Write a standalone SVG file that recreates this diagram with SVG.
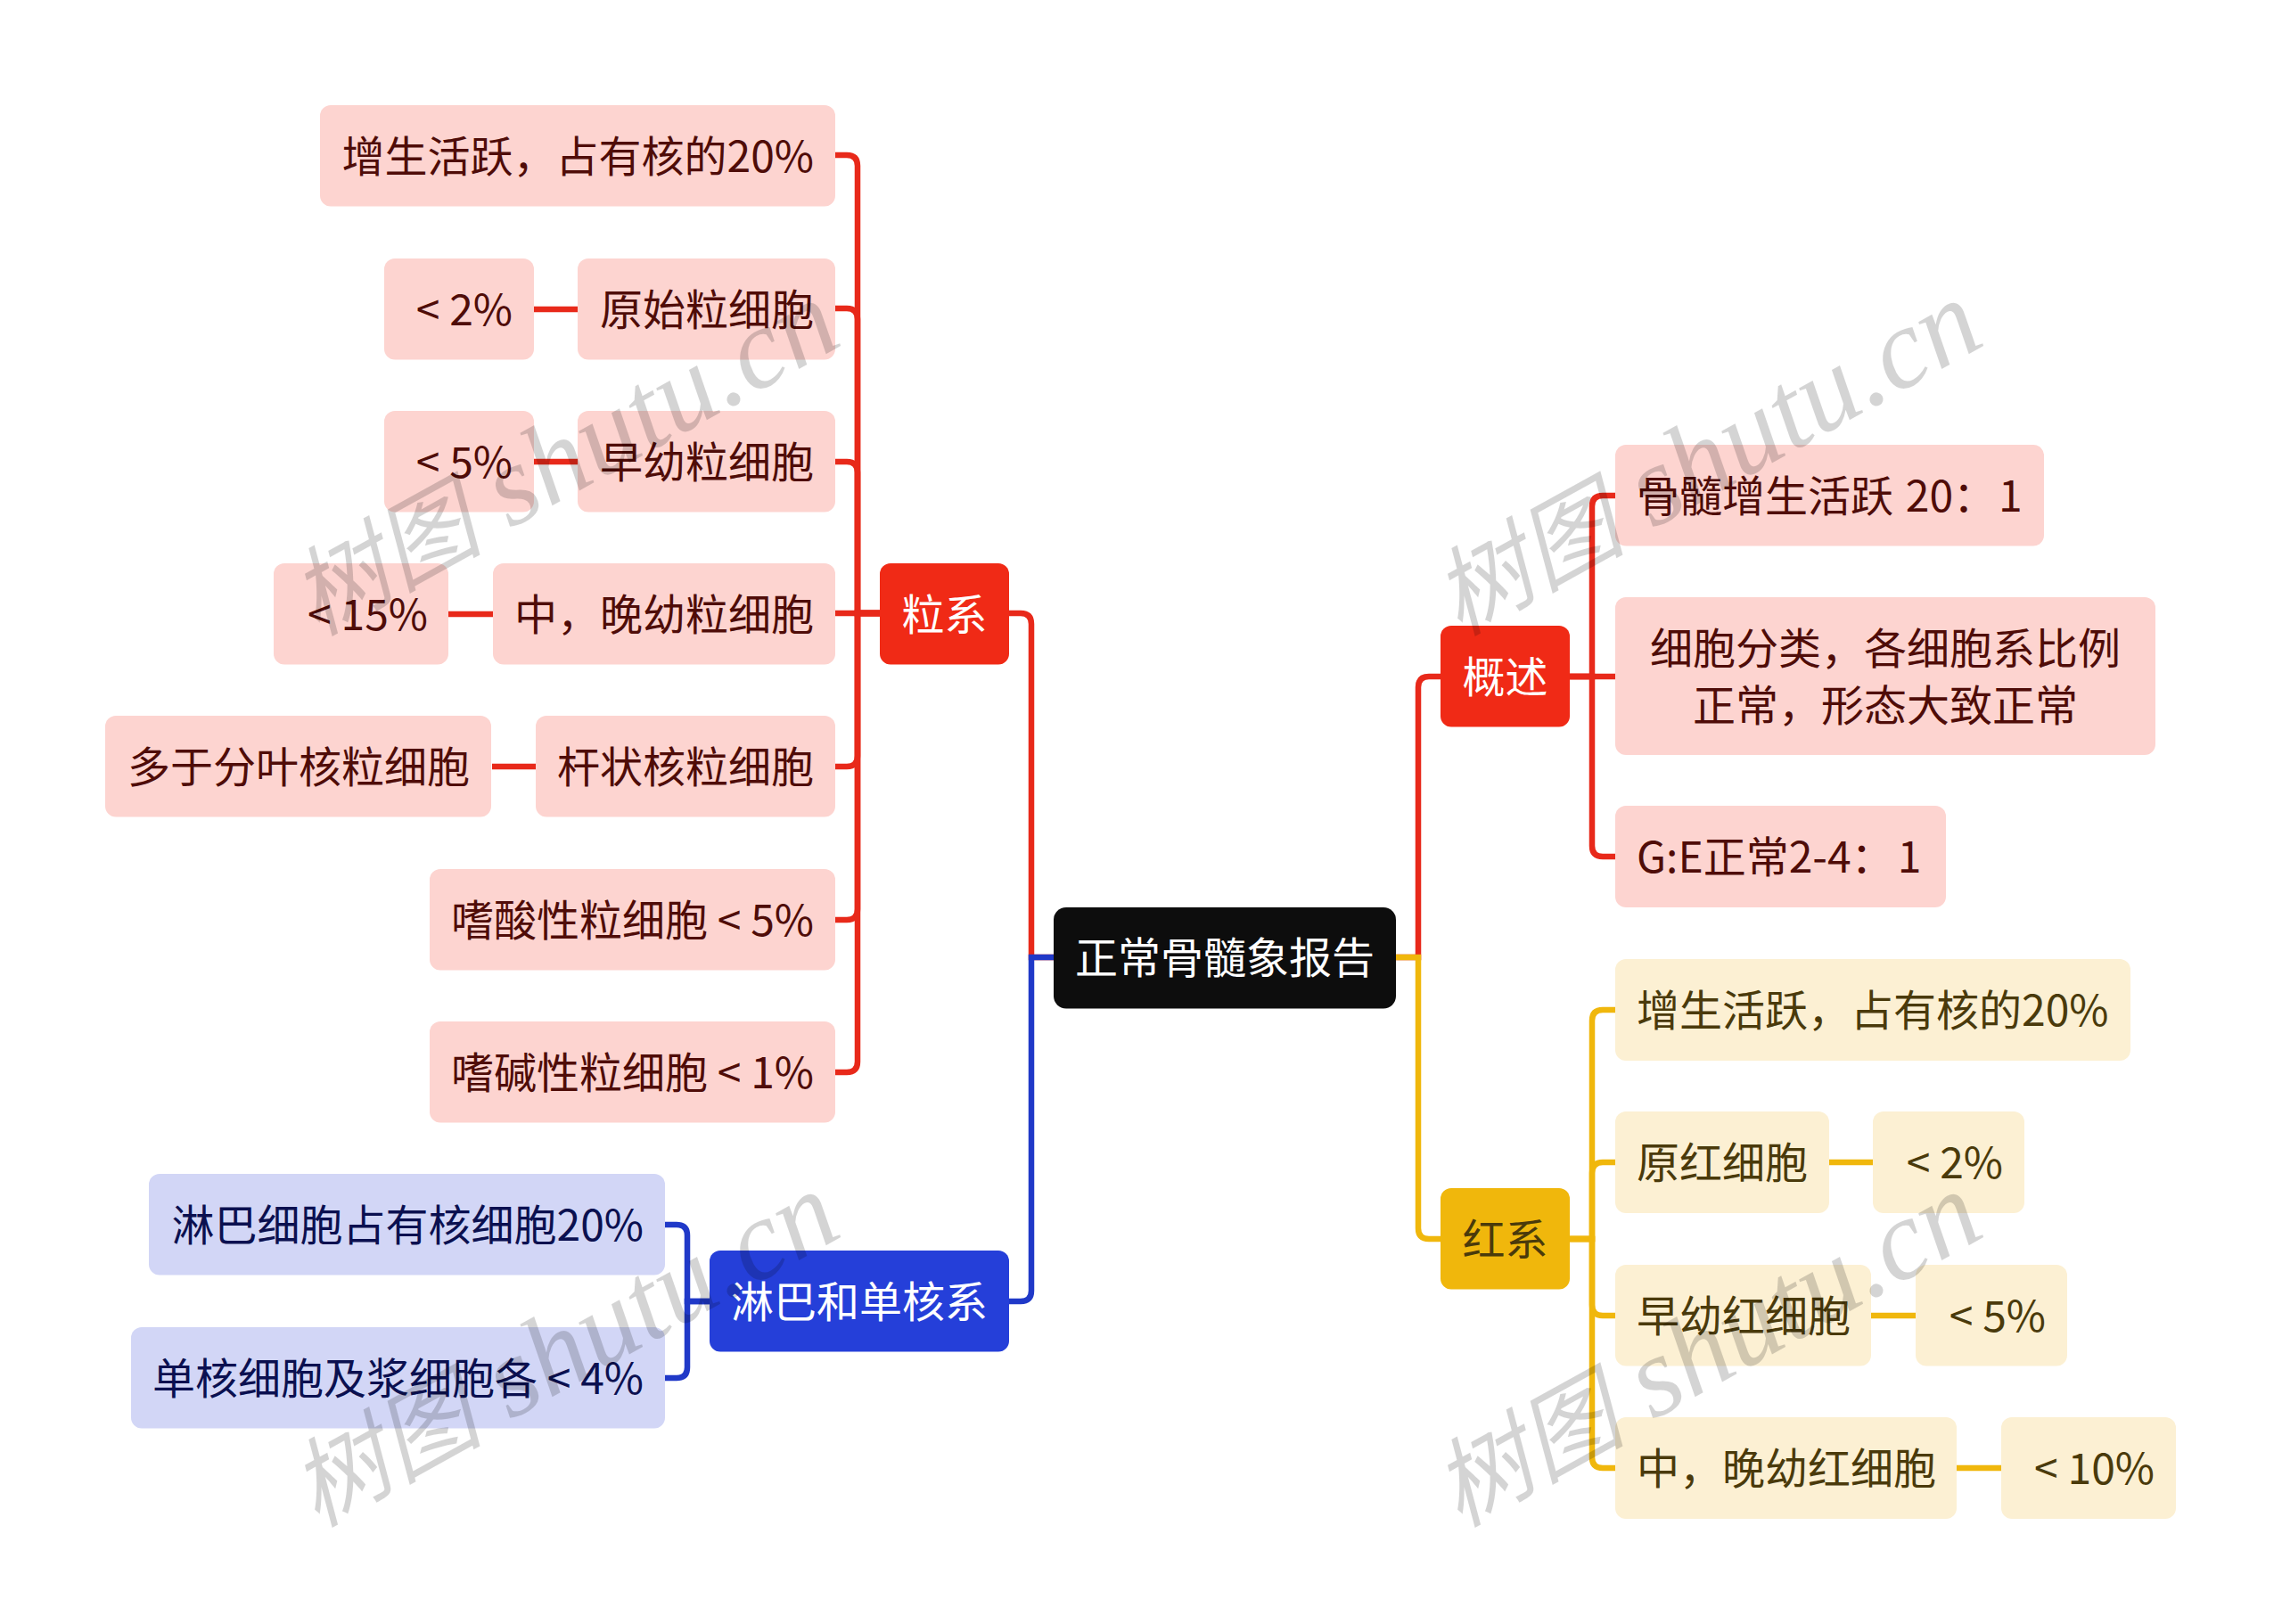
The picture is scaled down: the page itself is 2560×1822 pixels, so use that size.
<svg xmlns="http://www.w3.org/2000/svg" width="2560" height="1822" viewBox="0 0 2560 1822">
<style>
text{font-family:"Noto Sans CJK SC","Noto Sans",sans-serif;font-size:48px;font-weight:400}
.e{text-anchor:end}.m{text-anchor:middle}
.root{fill:#0d0d0d}.rt{fill:#fff}
.rm{fill:#f02a16}.ym{fill:#f0b70c}.bm{fill:#253fd9}
.rl{fill:#fdd4d0}.yl{fill:#fcf0d3}.bl{fill:#d2d6f6}
.rx{fill:#4f0c08}.yx{fill:#4a3a0b}.bx{fill:#0b1050}
.c{fill:none;stroke-width:6.500}
.cr{stroke:#e8291a}.cy{stroke:#f0b70c}.cb{stroke:#2039c8}
text.wm{font-family:"Liberation Serif","Noto Sans CJK SC",serif;font-style:italic;font-size:128px;font-weight:400;fill:#000;fill-opacity:.17}
.wc{font-size:108px}
</style>
<g id="connectors">
<path class="c cr" d="M1566 1074H1591V771Q1591 759 1603 759H1616"/>
<path class="c cy" d="M1566 1074H1591V1378Q1591 1390 1603 1390H1616"/>
<path class="c cr" d="M1182 1074H1157V700Q1157 688 1145 688H1132"/>
<path class="c cb" d="M1182 1074H1157V1448Q1157 1460 1145 1460H1132"/>
<path class="c cr" d="M987 688H962V186Q962 174 950 174H937"/>
<path class="c cr" d="M987 688H962V358Q962 346 950 346H937"/>
<path class="c cr" d="M987 688H962V530Q962 518 950 518H937"/>
<path class="c cr" d="M987 688H937"/>
<path class="c cr" d="M987 688H962V848Q962 860 950 860H937"/>
<path class="c cr" d="M987 688H962V1020Q962 1032 950 1032H937"/>
<path class="c cr" d="M987 688H962V1191Q962 1203 950 1203H937"/>
<path class="c cr" d="M648 347H599M598 518H649M503 689H553M552 860H601"/>
<path class="c cb" d="M796 1460H771V1386Q771 1374 759 1374H746"/>
<path class="c cb" d="M796 1460H771V1534Q771 1546 759 1546H746"/>
<path class="c cr" d="M1761 759H1786V568Q1786 556 1798 556H1812"/>
<path class="c cr" d="M1761 759H1812"/>
<path class="c cr" d="M1761 759H1786V949Q1786 961 1798 961H1812"/>
<path class="c cy" d="M1761 1390H1786V1145Q1786 1133 1798 1133H1812"/>
<path class="c cy" d="M1761 1390H1786V1316Q1786 1304 1798 1304H1812"/>
<path class="c cy" d="M1761 1390H1786V1464Q1786 1476 1798 1476H1812"/>
<path class="c cy" d="M1761 1390H1786V1635Q1786 1647 1798 1647H1812"/>
<path class="c cy" d="M2052 1304H2101M2099 1476H2149M2195 1647H2245"/>
</g>
<g id="root"><rect class="root" x="1182" y="1018" width="384" height="113.500" rx="14"/><text class="rt m" x="1374" y="1092">正常骨髓象报告</text></g>
<g id="n-lixi"><rect class="rm" x="987" y="632" width="145" height="113.500" rx="12"/><text class="rt m" x="1059.500" y="707">粒系</text></g>
<g id="n-linba"><rect class="bm" x="796" y="1403" width="336" height="113.500" rx="12"/><text class="rt m" x="964" y="1478">淋巴和单核系</text></g>
<g id="n-gaishu"><rect class="rm" x="1616" y="702" width="145" height="113.500" rx="12"/><text class="rt m" x="1688.500" y="777">概述</text></g>
<g id="n-hongxi"><rect class="ym" x="1616" y="1333" width="145" height="113.500" rx="12"/><text class="yx m" x="1688.500" y="1408">红系</text></g>
<g id="l1"><rect class="rl" x="359" y="118" width="578" height="113.500" rx="12"/><text class="rx e" x="913" y="192.500">增生活跃，占有核的20%</text></g>
<g id="l2"><rect class="rl" x="648" y="290" width="289" height="113.500" rx="12"/><text class="rx e" x="913" y="364.500">原始粒细胞</text></g>
<g id="l2a"><rect class="rl" x="431" y="290" width="168" height="113.500" rx="12"/><text class="rx e" x="575" y="364.500">&lt; 2%</text></g>
<g id="l3"><rect class="rl" x="648" y="461" width="289" height="113.500" rx="12"/><text class="rx e" x="913" y="535.500">早幼粒细胞</text></g>
<g id="l3a"><rect class="rl" x="431" y="461" width="168" height="113.500" rx="12"/><text class="rx e" x="575" y="535.500">&lt; 5%</text></g>
<g id="l4"><rect class="rl" x="553" y="632" width="384" height="113.500" rx="12"/><text class="rx e" x="913" y="706.500">中，晚幼粒细胞</text></g>
<g id="l4a"><rect class="rl" x="307" y="632" width="196" height="113.500" rx="12"/><text class="rx e" x="480" y="706.500">&lt; 15%</text></g>
<g id="l5"><rect class="rl" x="601" y="803" width="336" height="113.500" rx="12"/><text class="rx e" x="913" y="878">杆状核粒细胞</text></g>
<g id="l5a"><rect class="rl" x="118" y="803" width="433" height="113.500" rx="12"/><text class="rx e" x="527" y="878">多于分叶核粒细胞</text></g>
<g id="l6"><rect class="rl" x="482" y="975" width="455" height="113.500" rx="12"/><text class="rx e" x="913" y="1049.500">嗜酸性粒细胞 &lt; 5%</text></g>
<g id="l7"><rect class="rl" x="482" y="1146" width="455" height="113.500" rx="12"/><text class="rx e" x="913" y="1220.500">嗜碱性粒细胞 &lt; 1%</text></g>
<g id="b1"><rect class="bl" x="167" y="1317" width="579" height="113.500" rx="12"/><text class="bx e" x="722" y="1391.500">淋巴细胞占有核细胞20%</text></g>
<g id="b2"><rect class="bl" x="147" y="1489" width="599" height="113.500" rx="12"/><text class="bx e" x="722" y="1563.500">单核细胞及浆细胞各 &lt; 4%</text></g>
<g id="r1"><rect class="rl" x="1812" y="499" width="481" height="113.500" rx="12"/><text class="rx" x="1836" y="573.500">骨髓增生活跃 <tspan dx="3">20：</tspan><tspan dx="3">1</tspan></text></g>
<g id="r2"><rect class="rl" x="1812" y="670" width="606" height="177" rx="12"/><text class="rx m" x="2115" y="744.500">细胞分类，各细胞系比例</text><text class="rx m" x="2115" y="808.500">正常，形态大致正常</text></g>
<g id="r3"><rect class="rl" x="1812" y="904" width="371" height="114" rx="12"/><text class="rx" x="1836" y="978.500">G:E正常2-4：<tspan dx="4">1</tspan></text></g>
<g id="y1"><rect class="yl" x="1812" y="1076" width="578" height="114" rx="12"/><text class="yx" x="1836" y="1150.500">增生活跃，占有核的20%</text></g>
<g id="y2"><rect class="yl" x="1812" y="1247" width="240" height="114" rx="12"/><text class="yx" x="1836" y="1322">原红细胞</text></g>
<g id="y2a"><rect class="yl" x="2101" y="1247" width="170" height="114" rx="12"/><text class="yx e" x="2247" y="1322">&lt; 2%</text></g>
<g id="y3"><rect class="yl" x="1812" y="1419" width="287" height="113.500" rx="12"/><text class="yx" x="1836" y="1493.500">早幼红细胞</text></g>
<g id="y3a"><rect class="yl" x="2149" y="1419" width="170" height="113.500" rx="12"/><text class="yx e" x="2295" y="1493.500">&lt; 5%</text></g>
<g id="y4"><rect class="yl" x="1812" y="1590" width="383" height="114" rx="12"/><text class="yx" x="1836" y="1664.500">中，晚幼红细胞</text></g>
<g id="y4a"><rect class="yl" x="2245" y="1590" width="196" height="114" rx="12"/><text class="yx e" x="2417" y="1664.500">&lt; 10%</text></g>
<g id="watermarks">
<text class="wm" transform="translate(355 714) rotate(-29)"><tspan class="wc">树图</tspan> shutu.cn</text>
<text class="wm" transform="translate(1637 714) rotate(-29)"><tspan class="wc">树图</tspan> shutu.cn</text>
<text class="wm" transform="translate(355 1714) rotate(-29)"><tspan class="wc">树图</tspan> shutu.cn</text>
<text class="wm" transform="translate(1637 1714) rotate(-29)"><tspan class="wc">树图</tspan> shutu.cn</text>
</g>
</svg>
